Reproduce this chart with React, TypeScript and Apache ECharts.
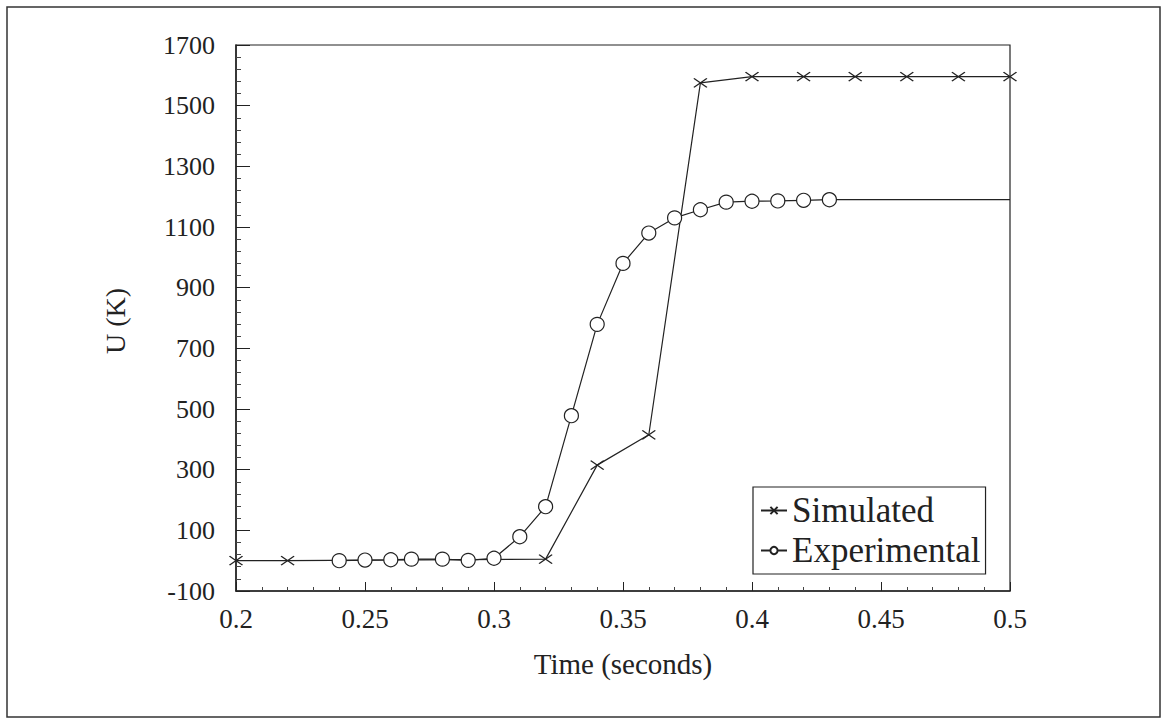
import React, { useEffect, useRef } from "react";
import * as echarts from "echarts";

const simTime = [0.2, 0.22, 0.32, 0.34, 0.36, 0.38, 0.4, 0.42, 0.44, 0.46, 0.48, 0.5];
const simValues = [0, 0, 5, 315, 415, 1575, 1596, 1596, 1596, 1596, 1596, 1596];

const expTime = [0.24, 0.25, 0.26, 0.268, 0.28, 0.29, 0.3, 0.31, 0.32, 0.33, 0.34, 0.35, 0.36, 0.37, 0.38, 0.39, 0.4, 0.41, 0.42, 0.43, 0.5];
const expValues = [0, 2, 3, 5, 5, 1, 8, 79, 178, 478, 779, 980, 1080, 1130, 1157, 1182, 1185, 1186, 1188, 1190, 1190];
// the last experimental point is drawn without a marker
const expMarkerless = [false, false, false, false, false, false, false, false, false, false, false, false, false, false, false, false, false, false, false, false, true];

const xTicks = { min: 0.2, max: 0.5, interval: 0.05 };
const yTicks = { min: -100, max: 1700, interval: 200 };

const FONT = "'Liberation Serif', 'DejaVu Serif', serif";
const INK = "#222";
const CROSS = "path://M0,0 L12,8 M0,8 L12,0";

export default function App() {
  const ref = useRef<HTMLDivElement>(null);
  useEffect(() => {
    document.body.style.margin = "0";
    const chart = echarts.init(ref.current!, null, { renderer: "svg" });
    chart.setOption({
      animation: false,
      backgroundColor: "#fff",
      graphic: [
        {
          type: "rect",
          shape: { x: 7, y: 7, width: 1153, height: 710 },
          style: { fill: "none", stroke: "#333", lineWidth: 1.5 },
          silent: true,
        },
        {
          type: "text",
          x: 115,
          y: 321,
          rotation: Math.PI / 2,
          style: {
            text: "U (K)",
            fontFamily: FONT,
            fontSize: 28,
            fill: INK,
            align: "center",
            verticalAlign: "middle",
          },
          silent: true,
        },
      ],
      grid: {
        left: 236,
        right: 152,
        top: 45,
        bottom: 131,
        show: true,
        borderColor: INK,
        borderWidth: 1.2,
      },
      legend: {
        orient: "vertical",
        left: 753,
        top: 487,
        borderColor: INK,
        borderWidth: 1.2,
        padding: [6, 5, 6, 7],
        itemGap: 5,
        itemWidth: 26,
        itemHeight: 9,
        textStyle: { fontFamily: FONT, fontSize: 35, color: INK },
        data: ["Simulated", "Experimental"],
      },
      xAxis: {
        type: "value",
        min: xTicks.min,
        max: xTicks.max,
        interval: xTicks.interval,
        name: "Time (seconds)",
        nameLocation: "middle",
        nameGap: 58,
        nameTextStyle: { fontFamily: FONT, fontSize: 29, color: INK },
        axisLine: { onZero: false, lineStyle: { color: INK, width: 1.5 } },
        axisTick: { inside: true, length: 9, lineStyle: { color: INK } },
        minorTick: { show: true, splitNumber: 5, length: 4, lineStyle: { color: "#444" } },
        splitLine: { show: false },
        axisLabel: { fontFamily: FONT, fontSize: 27, color: INK, margin: 14 },
      },
      yAxis: {
        type: "value",
        min: yTicks.min,
        max: yTicks.max,
        interval: yTicks.interval,
        axisLine: { onZero: false, lineStyle: { color: INK, width: 1.5 } },
        axisTick: { inside: true, length: 14, lineStyle: { color: INK } },
        minorTick: { show: true, splitNumber: 5, length: 5, lineStyle: { color: "#444" } },
        splitLine: { show: false },
        axisLabel: {
          fontFamily: FONT,
          fontSize: 26,
          color: INK,
          margin: 21,
          formatter: (v: number) => String(v),
        },
      },
      series: [
        {
          name: "Simulated",
          type: "line",
          data: simTime.map((t, i) => [t, simValues[i]]),
          symbol: CROSS,
          symbolSize: [13, 9],
          lineStyle: { color: INK, width: 1.2 },
          itemStyle: { color: "none", borderColor: INK, borderWidth: 1.3 },
          z: 2,
        },
        {
          name: "Experimental",
          type: "line",
          data: expTime.map((t, i) =>
            expMarkerless[i] ? { value: [t, expValues[i]], symbol: "none" } : [t, expValues[i]]
          ),
          symbol: "circle",
          symbolSize: 14,
          showAllSymbol: true,
          lineStyle: { color: INK, width: 1.2 },
          itemStyle: { color: "#fff", borderColor: INK, borderWidth: 1.2 },
          z: 3,
        },
      ],
    });
    return () => chart.dispose();
  }, []);
  return <div ref={ref} style={{ width: 1162, height: 722 }} />;
}
